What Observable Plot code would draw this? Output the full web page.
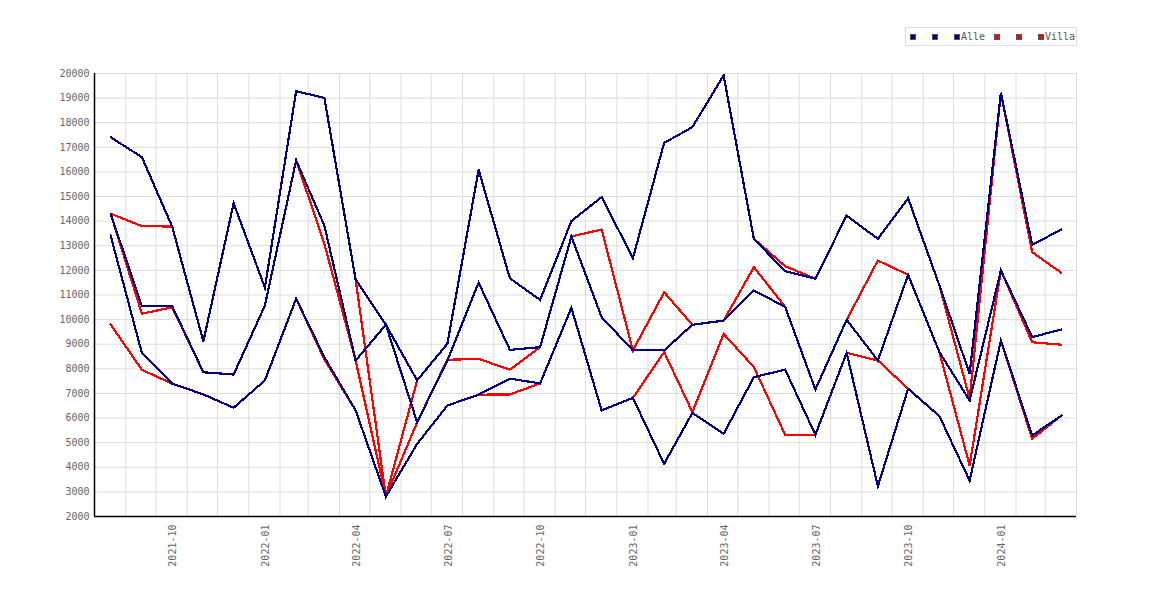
<!DOCTYPE html>
<html>
<head>
<meta charset="utf-8">
<script src="https://cdn.jsdelivr.net/npm/d3@7"></script>
<script src="https://cdn.jsdelivr.net/npm/@observablehq/plot@0.6"></script>
<style>
  html, body { margin: 0; padding: 0; background: #fff; }
  #wrap { position: relative; width: 1170px; height: 600px; }
  #legend { position: absolute; left: 905px; top: 27px; width: 172px; height: 19px;
            border: 1px solid #ddd; box-sizing: border-box; font-family: "DejaVu Sans Mono", monospace;
            font-size: 10px; color: #555; }
  #legend .sq { position: absolute; top: 6px; width: 6px; height: 6px; box-sizing: border-box; border: 1px solid #555; }
  #legend .tx { position: absolute; top: 3px; line-height: 12px; }
  svg .crisp path { shape-rendering: crispEdges; }
</style>
</head>
<body>
<div id="wrap"></div>
<script>
// Months (x categories)
const months = ["2021-08","2021-09","2021-10","2021-11","2021-12","2022-01","2022-02","2022-03","2022-04","2022-05","2022-06","2022-07",
  "2022-08","2022-09","2022-10","2022-11","2022-12","2023-01","2023-02","2023-03","2023-04","2023-05","2023-06","2023-07",
  "2023-08","2023-09","2023-10","2023-11","2023-12","2024-01","2024-02","2024-03"];

// "Alle" series (navy)
const alle1 = [17410,16600,13780,9120,14730,11300,19280,19010,11630,9790,7530,9020,
  16090,11680,10800,14000,14980,12500,17180,17820,19920,13280,11970,11660,
  14230,13280,14930,11390,7800,19220,13040,13660];
const alle2 = [14300,10550,10550,7860,7770,10570,16470,13820,8340,9790,5830,8340,
  11500,8770,8880,13380,10100,8750,8750,9790,9960,11180,10520,7160,
  9990,8340,11820,8680,6710,12000,9290,9600];
const alle3 = [13420,8640,7400,6960,6420,7530,10850,8470,6310,2810,4950,6510,
  6950,7600,7410,10480,6310,6820,4140,6210,5360,7660,7970,5320,
  8650,3230,7190,6080,3460,9150,5290,6100];

// "Villa" series (red)
const villa1 = [14300,13800,13780,9120,14730,11300,19280,19010,11630,2810,7530,9020,
  16090,11680,10800,14000,14980,12500,17180,17820,19920,13280,12170,11660,
  14230,13280,14930,11390,6780,19220,12740,11900];
const villa2 = [14300,10240,10500,7860,7770,10570,16470,13080,8340,2810,5830,8370,
  8400,7970,8880,13380,13660,8750,11110,9790,9960,12130,10520,7160,
  9990,12400,11820,8680,4070,12000,9080,8980];
const villa3 = [9800,7960,7400,6960,6420,7530,10850,8380,6310,2810,4950,6510,
  6950,6960,7410,10480,6310,6820,8680,6240,9420,8070,5320,5320,
  8650,8340,7190,6080,3460,9150,5160,6100];

// Tick labels
const xTickLabels = ["2021-10","2022-01","2022-04","2022-07","2022-10","2023-01","2023-04","2023-07","2023-10","2024-01"];
const yTicks = d3.range(2000, 20001, 1000);

const NAVY = "#000080", RED = "#ff0000";

const toDate = (m) => { const [y, mo] = m.split("-").map(Number); return new Date(Date.UTC(y, mo - 1, 17)); };
const monthStart = (y, mo) => new Date(Date.UTC(y, mo, 1));

const dates = months.map(toDate);
const xStart = monthStart(2021, 7);
const xEnd = monthStart(2024, 3);
const gridDates = d3.utcMonth.range(monthStart(2021, 8), d3.utcMonth.offset(xEnd, 1));

function table(values, name) {
  return values.map((v, i) => ({date: dates[i], value: v, series: name}));
}

const seriesList = [
  {name: "Villa 1", values: villa1, color: RED},
  {name: "Villa 2", values: villa2, color: RED},
  {name: "Villa 3", values: villa3, color: RED},
  {name: "Alle 1", values: alle1, color: NAVY},
  {name: "Alle 2", values: alle2, color: NAVY},
  {name: "Alle 3", values: alle3, color: NAVY}
];

const chart = Plot.plot({
  width: 1170,
  height: 600,
  marginLeft: 94,
  marginRight: 94,
  marginTop: 73,
  marginBottom: 84,
  style: {fontFamily: "'DejaVu Sans Mono', monospace", fontSize: "10px", color: "#666", background: "#fff"},
  x: {type: "utc", domain: [xStart, xEnd]},
  y: {domain: [2000, 20000]},
  marks: [
    Plot.gridY(yTicks, {stroke: "#dcdcdc", strokeOpacity: 1, strokeWidth: 1}),
    Plot.gridX(gridDates, {stroke: "#dcdcdc", strokeOpacity: 1, strokeWidth: 1}),
    ...seriesList.map(s => Plot.lineY(table(s.values, s.name), {
      x: "date", y: "value", stroke: s.color, strokeWidth: 2.2, strokeLinejoin: "miter", strokeMiterlimit: 4,
      className: "crisp"
    })),
    Plot.ruleX([xStart], {stroke: "#000", strokeWidth: 1.5}),
    Plot.ruleY([2000], {stroke: "#000", strokeWidth: 1.5}),
    Plot.axisY(yTicks, {tickSize: 0, tickPadding: 5, label: null, tickFormat: d => String(d)}),
    Plot.axisX(xTickLabels.map(toDate), {tickRotate: -90, tickSize: 0, tickPadding: 8, dx: 1, label: null,
      tickFormat: d3.utcFormat("%Y-%m")})
  ]
});

const wrap = document.getElementById("wrap");
wrap.appendChild(chart);

// Legend
const legend = document.createElement("div");
legend.id = "legend";
const items = [
  {left: 4, color: NAVY}, {left: 26, color: NAVY}, {left: 48, color: NAVY, label: "Alle"},
  {left: 88, color: RED}, {left: 110, color: RED}, {left: 132, color: RED, label: "Villa"}
];
items.forEach(it => {
  const sq = document.createElement("span");
  sq.className = "sq";
  sq.style.left = it.left + "px";
  sq.style.background = it.color;
  legend.appendChild(sq);
  if (it.label) {
    const tx = document.createElement("span");
    tx.className = "tx";
    tx.style.left = (it.left + 7) + "px";
    tx.textContent = it.label;
    legend.appendChild(tx);
  }
});
wrap.appendChild(legend);
</script>
</body>
</html>
